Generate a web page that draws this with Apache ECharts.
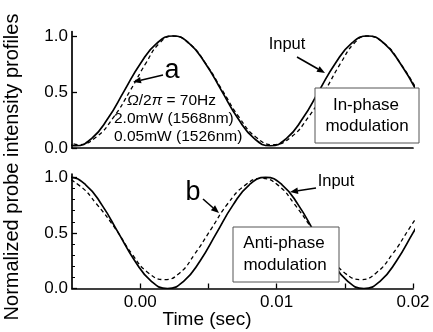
<!DOCTYPE html>
<html><head><meta charset="utf-8">
<script src="https://cdn.jsdelivr.net/npm/echarts@6/dist/echarts.min.js"></script>
<style>html,body{margin:0;padding:0;background:#fff}#c{width:433px;height:332px}</style>
</head><body><div id="c"></div>
<script>
// ---- data ----
// Top panel (in-phase): solid = input, dashed = output
const topInputT = [-0.00593,-0.00474,-0.00355,-0.00236,-0.00117,0.00002,0.00121,0.0024,0.00359,0.00478,0.00597,0.00716,0.00835,0.00954,0.01073,0.01192,0.01311,0.0143,0.01549,0.01669,0.01788,0.01907,0.02026];
const topInputY = [0.086,0.02,0.086,0.265,0.51,0.755,0.934,1.0,0.934,0.755,0.51,0.265,0.086,0.02,0.086,0.265,0.51,0.755,0.934,1.0,0.934,0.755,0.51];
const topOutT = [-0.00578,-0.00454,-0.00325,-0.00196,-0.00072,0.00042,0.00141,0.0024,0.00359,0.00478,0.00602,0.00726,0.0085,0.00974,0.01103,0.01232,0.01356,0.0147,0.01569,0.01659,0.01788,0.01907,0.02031];
const topOutY = [0.095,0.03,0.095,0.273,0.515,0.758,0.935,1.0,0.935,0.758,0.515,0.273,0.095,0.03,0.095,0.273,0.515,0.758,0.935,1.0,0.935,0.758,0.515];
// Bottom panel (anti-phase)
const botInputT = [-0.0064,-0.0052,-0.0040,-0.0028,-0.0016,-0.0004,0.0008,0.0020,0.0032,0.0044,0.0056,0.0068,0.0080,0.0092,0.0104,0.0116,0.0128,0.0140,0.0152,0.0164,0.0176,0.0188,0.0200,0.0212];
const botInputY = [0.933,1.0,0.933,0.75,0.5,0.25,0.067,0,0.067,0.25,0.5,0.75,0.933,1.0,0.933,0.75,0.5,0.25,0.067,0,0.067,0.25,0.5,0.75];
const botOutT = [-0.0070,-0.00575,-0.0045,-0.0032,-0.0018,-0.0006,0.0006,0.0018,0.0029,0.0040,0.0052,0.0064,0.0077,0.0089,0.0101,0.0113,0.0126,0.0138,0.0150,0.0162,0.0173,0.0185,0.0197,0.0209];
const botOutY = [0.93,0.99,0.93,0.76,0.535,0.31,0.14,0.08,0.14,0.31,0.535,0.76,0.93,0.99,0.93,0.76,0.535,0.31,0.14,0.08,0.14,0.31,0.535,0.76];
// ticks
const xTickLabels = [0, 0.01, 0.02];
const xTicks = [0, 0.005, 0.01, 0.015, 0.02];
const yTickLabels = [0, 0.5, 1.0];
const yMinorTicks = [0.1,0.2,0.3,0.4,0.6,0.7,0.8,0.9];

function pairs(t, y) { return t.map((v, i) => [v, y[i]]); }
const FONT = 'Liberation Sans';
const BLACK = '#000';
const axLine = {show:true, onZero:false, lineStyle:{color:BLACK, width:1.7}};
const labelBase = {fontSize:17, color:BLACK, fontFamily:FONT};

function arrow(x1, y1, x2, y2) {
  const a = Math.atan2(y2 - y1, x2 - x1), L = 8, W = 3.2;
  const bx = x2 - L*Math.cos(a), by = y2 - L*Math.sin(a);
  return [
    {type:'line', z:20, shape:{x1:x1, y1:y1, x2:bx, y2:by}, style:{stroke:BLACK, lineWidth:1.6}},
    {type:'polygon', z:20, shape:{points:[[x2,y2],[bx - W*Math.sin(a), by + W*Math.cos(a)],[bx + W*Math.sin(a), by - W*Math.cos(a)]]}, style:{fill:BLACK}}
  ];
}
function txt(x, y, s, size, extra) {
  return Object.assign({type:'text', z:30, x:x, y:y, style:Object.assign({text:s, fill:BLACK, fontSize:size, fontFamily:FONT, align:'center', verticalAlign:'middle', textAlign:'center', textVerticalAlign:'middle'}, (extra||{}).style||{})}, (extra||{}).el||{});
}
function box(x, y, w, h) {
  return {type:'rect', z:25, shape:{x:x, y:y, width:w, height:h}, style:{fill:'#fff', stroke:'#555', lineWidth:1}};
}

const chart = echarts.init(document.getElementById('c'), null, {renderer:'canvas'});
const dashed = {color:BLACK, width:1.3, type:[4,3]};
const solid = {color:BLACK, width:1.7};
chart.setOption({
  animation:false,
  grid:[{left:72, right:20, top:31.5, height:116.5}, {left:72, right:20, top:174, height:114.5}],
  xAxis:[
    {gridIndex:0, type:'value', min:-0.005, max:0.02, axisLine:axLine, axisTick:{show:false}, axisLabel:{show:false}, splitLine:{show:false}},
    {gridIndex:1, type:'value', min:-0.005, max:0.02, axisLine:axLine,
     axisTick:{show:true, inside:true, length:5, customValues:xTicks, lineStyle:{color:BLACK, width:1.3}},
     axisLabel:Object.assign({customValues:xTickLabels, formatter:v => v.toFixed(2), margin:5}, labelBase), splitLine:{show:false}}
  ],
  yAxis:[
    {gridIndex:0, type:'value', min:0, max:1.04, axisLine:axLine,
     axisTick:{show:true, inside:true, length:5, customValues:yTickLabels, lineStyle:{color:BLACK, width:1.3}},
     axisLabel:Object.assign({customValues:yTickLabels, formatter:v => v.toFixed(1), margin:4}, labelBase), splitLine:{show:false}},
    {gridIndex:1, type:'value', min:0, max:1.03, axisLine:axLine,
     axisTick:{show:true, inside:true, length:5, customValues:yTickLabels, lineStyle:{color:BLACK, width:1.3}},
     axisLabel:Object.assign({customValues:yTickLabels, formatter:v => v.toFixed(1), margin:4}, labelBase), splitLine:{show:false}},
    {gridIndex:1, type:'value', min:0, max:1.03, position:'left', axisLine:{show:false, onZero:false},
     axisTick:{show:true, inside:true, length:3, customValues:yMinorTicks, lineStyle:{color:BLACK, width:1}},
     axisLabel:{show:false}, splitLine:{show:false}}
  ],
  series:[
    {type:'line', xAxisIndex:0, yAxisIndex:0, data:pairs(topInputT, topInputY), smooth:true, showSymbol:false, lineStyle:solid},
    {type:'line', xAxisIndex:0, yAxisIndex:0, data:pairs(topOutT, topOutY), smooth:true, showSymbol:false, lineStyle:dashed},
    {type:'line', xAxisIndex:1, yAxisIndex:1, data:pairs(botInputT, botInputY), smooth:true, showSymbol:false, lineStyle:solid},
    {type:'line', xAxisIndex:1, yAxisIndex:1, data:pairs(botOutT, botOutY), smooth:true, showSymbol:false, lineStyle:dashed}
  ],
  graphic:[].concat(
    [txt(12, 167, 'Normalized probe intensity profiles', 20, {el:{rotation:Math.PI/2}})],
    [txt(207, 320, 'Time (sec)', 19)],
    // top panel annotations
    [txt(172, 71, 'a', 27)],
    arrow(163, 75, 133, 82),
    [{type:'text', z:30, x:127, y:101, style:{text:'{i|Ω}/2{i|π} = 70Hz', fill:BLACK, fontSize:15.5, fontFamily:FONT, verticalAlign:'middle', textVerticalAlign:'middle', rich:{i:{fontStyle:'italic', fontSize:15.5, fontFamily:FONT}}}}],
    [{type:'text', z:30, x:114, y:119, style:{text:'2.0mW (1568nm)', fill:BLACK, fontSize:15.5, fontFamily:FONT, verticalAlign:'middle', textVerticalAlign:'middle'}}],
    [{type:'text', z:30, x:114, y:137, style:{text:'0.05mW (1526nm)', fill:BLACK, fontSize:15.5, fontFamily:FONT, verticalAlign:'middle', textVerticalAlign:'middle'}}],
    [txt(287, 44, 'Input', 16.5)],
    arrow(297, 57, 325, 73),
    [box(315, 88, 104, 55)],
    [txt(366, 105, 'In-phase', 17), txt(367, 126, 'modulation', 17)],
    // bottom panel annotations
    [txt(193, 193, 'b', 27)],
    arrow(203, 199, 219, 213),
    [txt(336, 181, 'Input', 16.5)],
    arrow(316, 188, 290, 192),
    [box(233, 227, 106, 55)],
    [txt(284, 243, 'Anti-phase', 17), txt(285, 265, 'modulation', 17)]
  )
});
</script>
</body></html>
